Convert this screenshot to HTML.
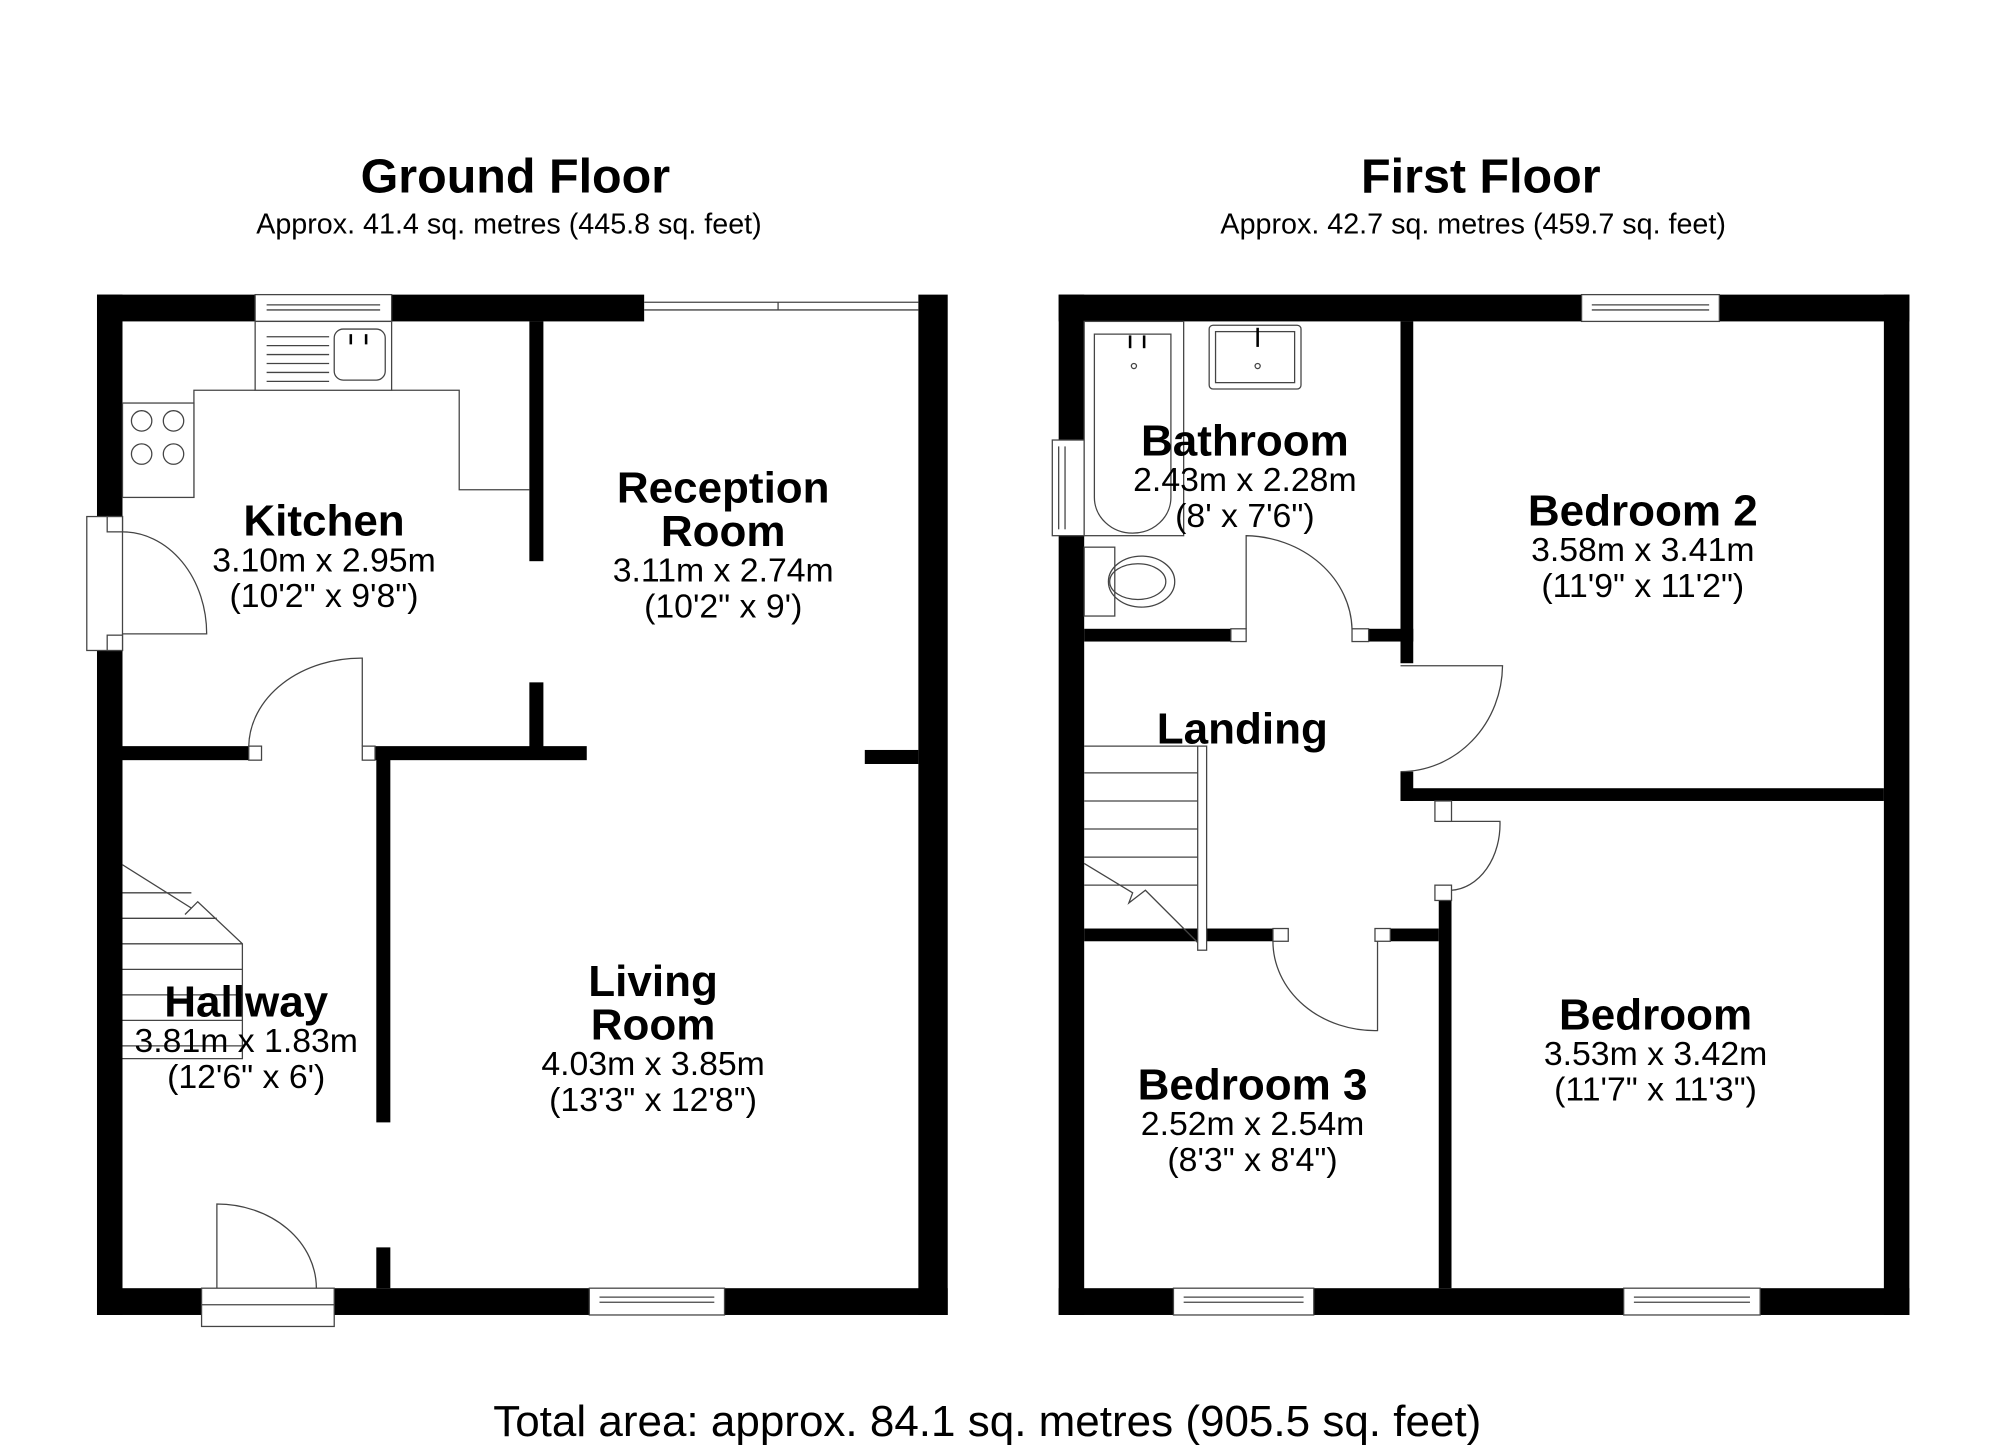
<!DOCTYPE html>
<html><head><meta charset="utf-8"><style>
html,body{margin:0;padding:0;background:#fff;}
svg{display:block}
text{font-family:"Liberation Sans",sans-serif;fill:#000;text-anchor:middle}
.t{font-weight:bold;font-size:38px}
.s{font-size:22.5px}
.n{font-weight:bold;font-size:34.5px}
.d{font-size:26.5px}
.l{fill:none;stroke:#444;stroke-width:1}
.w{fill:#fff;stroke:#444;stroke-width:1}
</style></head><body>
<svg width="2000" height="1454" viewBox="0 0 1568 1140" xmlns="http://www.w3.org/2000/svg">
<rect width="1568" height="1140" fill="#fff"/>
<text class="t" x="404" y="151">Ground Floor</text>
<text class="s" x="399" y="183">Approx. 41.4 sq. metres (445.8 sq. feet)</text>
<text class="t" x="1161" y="151">First Floor</text>
<text class="s" x="1155" y="183">Approx. 42.7 sq. metres (459.7 sq. feet)</text>
<text x="774" y="1126" style="font-size:34.5px">Total area: approx. 84.1 sq. metres (905.5 sq. feet)</text>

<!-- GROUND FLOOR walls -->
<g fill="#000">
<rect x="76" y="231" width="124" height="21"/>
<rect x="307" y="231" width="198" height="21"/>
<rect x="720" y="231" width="23" height="800"/>
<rect x="76" y="231" width="20" height="174"/>
<rect x="76" y="510" width="20" height="521"/>
<rect x="76" y="1010" width="82" height="21"/>
<rect x="262" y="1010" width="200" height="21"/>
<rect x="568" y="1010" width="175" height="21"/>
<rect x="96" y="585" width="99" height="11"/>
<rect x="294" y="585" width="166" height="11"/>
<rect x="415" y="252" width="11" height="188"/>
<rect x="415" y="535" width="11" height="55"/>
<rect x="678" y="588" width="42" height="11"/>
<rect x="295" y="590" width="11" height="290"/>
<rect x="295" y="978" width="11" height="32"/>
</g>
<rect class="w" x="200" y="231" width="107" height="21"/>
<line class="l" x1="209" y1="239" x2="298" y2="239"/><line class="l" x1="209" y1="243" x2="298" y2="243"/>
<rect class="w" x="462" y="1010" width="106" height="21"/>
<line class="l" x1="470" y1="1021" x2="560" y2="1021"/><line class="l" x1="470" y1="1017" x2="560" y2="1017"/>
<line class="l" x1="505" y1="237" x2="720" y2="237"/><line class="l" x1="505" y1="243" x2="720" y2="243"/><line class="l" x1="610" y1="237" x2="610" y2="243"/>
<!-- kitchen units -->
<path class="l" d="M96 390 H 152 V 306 H 200 M307 306 H 360 V 384 H 415"/>
<rect class="w" x="200" y="252" width="107" height="54"/>
<g class="l"><line x1="209" y1="264" x2="258" y2="264"/><line x1="209" y1="271" x2="258" y2="271"/><line x1="209" y1="278" x2="258" y2="278"/><line x1="209" y1="285" x2="258" y2="285"/><line x1="209" y1="292" x2="258" y2="292"/><line x1="209" y1="299" x2="258" y2="299"/></g>
<rect class="w" x="262" y="258" width="40" height="40" rx="7"/>
<line x1="275" y1="262" x2="275" y2="270" stroke="#000" stroke-width="2"/><line x1="287" y1="262" x2="287" y2="270" stroke="#000" stroke-width="2"/>
<rect class="w" x="96" y="316" width="56" height="74"/>
<circle class="l" cx="111" cy="330" r="8"/><circle class="l" cx="136" cy="330" r="8"/><circle class="l" cx="111" cy="356" r="8"/><circle class="l" cx="136" cy="356" r="8"/>
<!-- side door -->
<rect class="w" x="68" y="405" width="28" height="105"/>
<rect class="w" x="84" y="405" width="12" height="12"/><rect class="w" x="84" y="498" width="12" height="12"/>
<path class="l" d="M96 417 A 66 80 0 0 1 162 497 H 96"/>
<!-- kitchen-hall door -->
<rect class="w" x="195" y="585" width="10" height="11"/><rect class="w" x="284" y="585" width="10" height="11"/>
<path class="l" d="M195 585 A 88 70 0 0 1 284 516 V 585"/>
<!-- stairs hall -->
<path class="l" d="M96 678 L150 712 L145 717 L155 707 L190 740 V 830 H 96 M96 700 H 150 M96 720 H 170 M96 740 H 190 M96 760 H 190 M96 780 H 190 M96 800 H 190 M96 820 H 190"/>
<!-- front door -->
<rect class="w" x="158" y="1010" width="104" height="30"/>
<path class="l" d="M170 1010 V 944 A 78 66 0 0 1 248 1010"/>
<line class="l" x1="158" y1="1023" x2="262" y2="1023"/>

<!-- FIRST FLOOR walls -->
<g fill="#000">
<rect x="830" y="231" width="410" height="21"/>
<rect x="1348" y="231" width="149" height="21"/>
<rect x="830" y="231" width="20" height="114"/>
<rect x="830" y="420" width="20" height="611"/>
<rect x="1477" y="231" width="20" height="800"/>
<rect x="830" y="1010" width="90" height="21"/>
<rect x="1030" y="1010" width="243" height="21"/>
<rect x="1380" y="1010" width="117" height="21"/>
<rect x="850" y="493" width="115" height="10"/>
<rect x="1073" y="493" width="35" height="10"/>
<rect x="1098" y="252" width="10" height="268"/>
<rect x="1098" y="605" width="10" height="23"/>
<rect x="1098" y="618" width="379" height="10"/>
<rect x="1128" y="628" width="10" height="12"/>
<rect x="1128" y="705" width="10" height="305"/>
<rect x="850" y="728" width="150" height="10"/>
<rect x="1090" y="728" width="38" height="10"/>
</g>
<rect class="w" x="1240" y="231" width="108" height="21"/>
<line class="l" x1="1248" y1="239" x2="1340" y2="239"/><line class="l" x1="1248" y1="243" x2="1340" y2="243"/>
<rect class="w" x="920" y="1010" width="110" height="21"/>
<line class="l" x1="928" y1="1017" x2="1022" y2="1017"/><line class="l" x1="928" y1="1021" x2="1022" y2="1021"/>
<rect class="w" x="1273" y="1010" width="107" height="21"/>
<line class="l" x1="1281" y1="1017" x2="1372" y2="1017"/><line class="l" x1="1281" y1="1021" x2="1372" y2="1021"/>
<rect class="w" x="825" y="345" width="25" height="75"/>
<line class="l" x1="830" y1="350" x2="830" y2="415"/><line class="l" x1="835" y1="350" x2="835" y2="415"/>
<!-- bathroom fixtures -->
<rect class="w" x="850" y="252" width="78" height="168"/>
<path class="l" d="M858 262 H 918 V 390 A 30 28 0 0 1 858 390 Z"/>
<circle class="l" cx="889" cy="287" r="2"/>
<line x1="886" y1="263" x2="886" y2="273" stroke="#000" stroke-width="2"/><line x1="897" y1="263" x2="897" y2="273" stroke="#000" stroke-width="2"/>
<rect class="w" x="948" y="255" width="72" height="50" rx="3"/>
<rect class="w" x="953" y="260" width="62" height="40"/>
<circle class="l" cx="986" cy="287" r="2"/>
<line x1="986" y1="257" x2="986" y2="272" stroke="#000" stroke-width="2"/>
<rect class="w" x="850" y="429" width="24" height="54"/>
<ellipse class="l" cx="895" cy="456" rx="26" ry="20"/><ellipse class="l" cx="892" cy="456" rx="22" ry="14"/>
<!-- bathroom door -->
<rect class="w" x="965" y="493" width="12" height="10"/><rect class="w" x="1060" y="493" width="13" height="10"/>
<path class="l" d="M977 493 V 420 A 85 75 0 0 1 1060 493"/>
<!-- bedroom2 door -->
<path class="l" d="M1098 522 H 1178 A 80 84 0 0 1 1098 605"/>
<!-- bedroom door -->
<rect class="w" x="1125" y="628" width="13" height="16"/><rect class="w" x="1125" y="694" width="13" height="12"/>
<path class="l" d="M1138 644 H 1176 A 40 52 0 0 1 1138 698"/>
<!-- bedroom3 door -->
<rect class="w" x="998" y="728" width="12" height="10"/><rect class="w" x="1078" y="728" width="12" height="10"/>
<path class="l" d="M998 738 A 80 70 0 0 0 1080 808 V 738"/>
<!-- stairs landing -->
<path class="l" d="M850 585 H 942 M850 606 H 942 M850 628 H 942 M850 650 H 942 M850 672 H 942 M850 694 H 942 M850 677 L 888 700 L 885 708 L 898 698 L 942 742"/>
<rect class="w" x="939" y="585" width="7" height="160"/>
<!-- labels -->
<text class="n" x="254" y="420">Kitchen</text><text class="d" x="254" y="448">3.10m x 2.95m</text><text class="d" x="254" y="476">(10'2" x 9'8")</text>
<text class="n" x="567" y="394">Reception</text><text class="n" x="567" y="428">Room</text><text class="d" x="567" y="456">3.11m x 2.74m</text><text class="d" x="567" y="484">(10'2" x 9')</text>
<text class="n" x="193" y="797">Hallway</text><text class="d" x="193" y="825">3.81m x 1.83m</text><text class="d" x="193" y="853">(12'6" x 6')</text>
<text class="n" x="512" y="781">Living</text><text class="n" x="512" y="815">Room</text><text class="d" x="512" y="843">4.03m x 3.85m</text><text class="d" x="512" y="871">(13'3" x 12'8")</text>
<text class="n" x="976" y="357">Bathroom</text><text class="d" x="976" y="385">2.43m x 2.28m</text><text class="d" x="976" y="413">(8' x 7'6")</text>
<text class="n" x="1288" y="412">Bedroom 2</text><text class="d" x="1288" y="440">3.58m x 3.41m</text><text class="d" x="1288" y="468">(11'9" x 11'2")</text>
<text class="n" x="974" y="583">Landing</text>
<text class="n" x="1298" y="807">Bedroom</text><text class="d" x="1298" y="835">3.53m x 3.42m</text><text class="d" x="1298" y="863">(11'7" x 11'3")</text>
<text class="n" x="982" y="862">Bedroom 3</text><text class="d" x="982" y="890">2.52m x 2.54m</text><text class="d" x="982" y="918">(8'3" x 8'4")</text>
</svg>
</body></html>
